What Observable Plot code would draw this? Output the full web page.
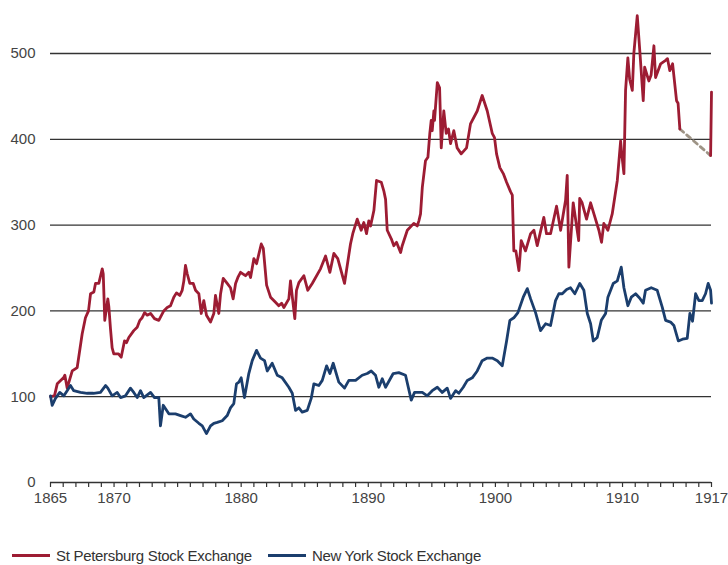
<!DOCTYPE html>
<html><head><meta charset="utf-8">
<script src="https://cdn.jsdelivr.net/npm/d3@7"></script>
<script src="https://cdn.jsdelivr.net/npm/@observablehq/plot@0.6"></script>
<style>
body{margin:0;background:#fff;font-family:"Liberation Sans",Arial,sans-serif;}
#legend{display:flex;align-items:center;height:20px;margin-top:35px;margin-left:12px;font-size:15px;color:#333;letter-spacing:-0.3px;}
.item{display:flex;align-items:center;margin-right:16px;}
.sw{display:inline-block;width:38px;height:3px;margin-right:6px;}
</style></head><body>
<div id="chart"></div>
<div id="legend"></div>
<script>
// St Petersburg Stock Exchange (index, 1865 = 100); null marks the gap in the record
const spYear = [1865.00,1865.31,1865.53,1866.02,1866.13,1866.31,1866.71,1867.10,1867.49,1867.75,1867.99,1868.15,1868.41,1868.54,1868.80,1869.07,1869.15,1869.27,1869.51,1869.59,1869.72,1869.85,1869.98,1870.35,1870.56,1870.82,1870.98,1871.16,1871.55,1871.82,1872.03,1872.21,1872.40,1872.61,1872.87,1873.18,1873.52,1873.91,1874.18,1874.44,1874.70,1874.91,1875.17,1875.36,1875.49,1875.62,1875.76,1875.96,1876.23,1876.41,1876.67,1876.86,1877.06,1877.27,1877.59,1877.85,1877.98,1878.24,1878.38,1878.59,1878.90,1879.16,1879.37,1879.56,1879.74,1879.95,1880.34,1880.60,1880.74,1881.00,1881.21,1881.58,1881.74,1882.00,1882.31,1882.70,1882.96,1883.18,1883.36,1883.75,1883.88,1884.22,1884.35,1884.54,1884.93,1885.24,1885.59,1886.24,1886.64,1886.98,1887.29,1887.60,1888.13,1888.60,1888.78,1889.13,1889.44,1889.65,1889.86,1890.04,1890.18,1890.44,1890.65,1891.02,1891.22,1891.36,1891.49,1891.81,1892.01,1892.22,1892.54,1892.67,1893.07,1893.58,1893.85,1893.98,1894.11,1894.25,1894.50,1894.69,1894.84,1894.95,1895.03,1895.16,1895.21,1895.43,1895.61,1895.74,1895.94,1896.13,1896.31,1896.47,1896.73,1896.99,1897.31,1897.73,1898.04,1898.57,1898.96,1899.36,1899.75,1899.93,1900.09,1900.35,1900.62,1900.88,1901.19,1901.33,1901.45,1901.61,1901.85,1902.03,1902.37,1902.77,1903.03,1903.29,1903.81,1904.02,1904.34,1904.81,1905.13,1905.52,1905.65,1905.78,1906.12,1906.55,1906.63,1906.82,1907.17,1907.49,1907.75,1908.14,1908.35,1908.53,1908.85,1909.19,1909.59,1909.85,1909.96,1910.11,1910.24,1910.42,1910.56,1910.77,1910.89,1911.16,1911.36,1911.63,1911.74,1912.07,1912.25,1912.47,1912.60,1913.00,1913.39,1913.54,1913.72,1913.94,1914.25,1914.37,1914.51,1915.70,1916.93,1917.00];
const spValue = [100,101,115,122,125,110,130,134,173,192,200,220,222,232,232,249,243,189,214,205,179,157,150,150,146,165,163,169,177,181,189,192,198,195,197,191,189,200,204,206,216,221,218,224,235,253,243,232,232,224,220,197,212,195,187,197,218,197,220,238,232,227,214,232,239,245,241,245,239,261,255,278,273,230,216,210,206,209,204,214,235,191,224,233,241,224,232,249,264,245,267,261,232,278,290,307,294,303,290,305,299,317,352,350,340,330,294,284,276,280,268,276,294,302,299,305,313,344,375,379,407,422,410,433,422,466,460,390,433,407,412,395,410,390,383,390,418,433,451,433,407,402,383,367,360,350,339,335,270,270,247,282,270,290,294,276,309,290,290,322,294,329,358,251,326,282,331,326,307,326,313,294,280,302,294,313,352,398,380,360,457,495,470,457,500,544,503,445,484,468,475,509,472,488,492,494,480,488,445,442,412,null,381,455];
// Dashed bridge across the gap
const gapYear = [1914.51, 1916.93];
const gapValue = [412, 381];
// New York Stock Exchange (index, 1865 = 100)
const nyYear = [1865.00,1865.13,1865.39,1865.73,1866.05,1866.31,1866.57,1866.83,1867.36,1867.89,1868.38,1868.93,1869.33,1869.51,1869.85,1870.25,1870.51,1870.90,1871.29,1871.55,1871.82,1872.08,1872.34,1872.87,1873.18,1873.52,1873.65,1873.87,1874.05,1874.31,1874.83,1875.23,1875.62,1876.01,1876.27,1876.67,1876.94,1877.27,1877.59,1877.85,1878.12,1878.51,1878.90,1879.16,1879.42,1879.63,1879.82,1880.00,1880.26,1880.60,1880.87,1881.21,1881.52,1881.84,1882.05,1882.44,1882.84,1883.23,1883.75,1884.02,1884.28,1884.54,1884.80,1885.20,1885.51,1885.72,1886.11,1886.38,1886.72,1886.98,1887.24,1887.68,1888.13,1888.47,1889.00,1889.52,1889.92,1890.23,1890.57,1890.83,1891.10,1891.36,1891.96,1892.40,1892.93,1893.38,1893.64,1894.25,1894.64,1895.03,1895.43,1895.82,1896.21,1896.47,1896.87,1897.12,1897.47,1897.79,1898.18,1898.57,1898.96,1899.36,1899.75,1900.15,1900.54,1900.88,1901.14,1901.45,1901.77,1902.19,1902.51,1902.77,1903.16,1903.55,1903.95,1904.34,1904.73,1904.99,1905.26,1905.60,1905.91,1906.25,1906.64,1906.96,1907.23,1907.49,1907.70,1908.01,1908.33,1908.67,1908.85,1909.27,1909.59,1909.90,1910.11,1910.42,1910.69,1911.03,1911.34,1911.63,1911.81,1912.26,1912.73,1913.13,1913.39,1913.78,1914.04,1914.39,1914.72,1915.09,1915.30,1915.51,1915.75,1916.01,1916.27,1916.53,1916.74,1916.93,1917.00];
const nyValue = [101,90,98,105,101,107,113,107,105,104,104,105,113,110,101,105,99,101,110,105,99,107,99,105,99,99,66,90,86,80,80,78,76,80,74,69,66,57,66,69,70,72,78,87,92,115,117,122,99,127,142,154,145,142,130,139,125,122,111,104,84,87,82,84,98,115,113,119,136,127,139,117,110,119,119,125,127,130,125,111,121,111,127,128,125,96,105,105,101,107,111,105,110,98,107,104,111,119,122,130,142,145,145,142,136,165,189,192,198,216,226,214,198,177,185,183,212,220,220,225,227,220,232,224,197,185,165,169,189,197,216,232,235,251,227,206,216,220,215,209,224,227,224,204,189,187,183,165,167,168,197,188,220,212,212,220,232,224,209];
const yTicks = [0,100,200,300,400,500];
const gridValues = [100,200,300,400,500];
const tickYears = d3.range(1865, 1918);
const labelYears = [1865,1870,1880,1890,1900,1910,1917];
const seriesNames = ["St Petersburg Stock Exchange","New York Stock Exchange"];
const seriesColors = ["#9d1c33","#1b3e6d"];
const gapColor = "#9e9486";

const sp = spYear.map((y,i)=>({year:y, value:spValue[i]}));
const ny = nyYear.map((y,i)=>({year:y, value:nyValue[i]}));
const gap = gapYear.map((y,i)=>({year:y, value:gapValue[i]}));

const chart = Plot.plot({
  width:728, height:510,
  marginLeft:50, marginRight:17, marginTop:53, marginBottom:28,
  x:{domain:[1865,1917], label:null},
  y:{domain:[0,500], label:null},
  style:{fontFamily:"'Liberation Sans', Arial, sans-serif", fontSize:"15px", color:"#444", background:"#fff", overflow:"visible"},
  marks:[
    Plot.ruleY(gridValues, {stroke:"#333", strokeWidth:1.3}),
    Plot.ruleY([0], {stroke:"#333", strokeWidth:1.3}),
    Plot.axisX({ticks:tickYears, tickSize:5, tickFormat:()=>"", label:null, stroke:"#333", strokeWidth:1.2}),
    Plot.axisX({ticks:labelYears, tickSize:0, tickPadding:10, label:null, tickFormat:d=>String(d), fill:"#444"}),
    Plot.axisY({ticks:yTicks, tickSize:0, tickPadding:15, label:null, fill:"#444"}),
    Plot.line(gap, {x:"year", y:"value", stroke:gapColor, strokeWidth:2.8, strokeDasharray:"5,4"}),
    Plot.line(sp, {x:"year", y:"value", stroke:seriesColors[0], strokeWidth:2.8, strokeLinejoin:"round"}),
    Plot.line(ny, {x:"year", y:"value", stroke:seriesColors[1], strokeWidth:2.8, strokeLinejoin:"round"})
  ]
});
document.getElementById("chart").appendChild(chart);

const legend = document.getElementById("legend");
seriesNames.forEach((n,i)=>{
  const it = document.createElement("div"); it.className="item";
  const sw = document.createElement("span"); sw.className="sw"; sw.style.background=seriesColors[i];
  const t = document.createElement("span"); t.textContent=n;
  it.appendChild(sw); it.appendChild(t); legend.appendChild(it);
});
</script>
</body></html>
